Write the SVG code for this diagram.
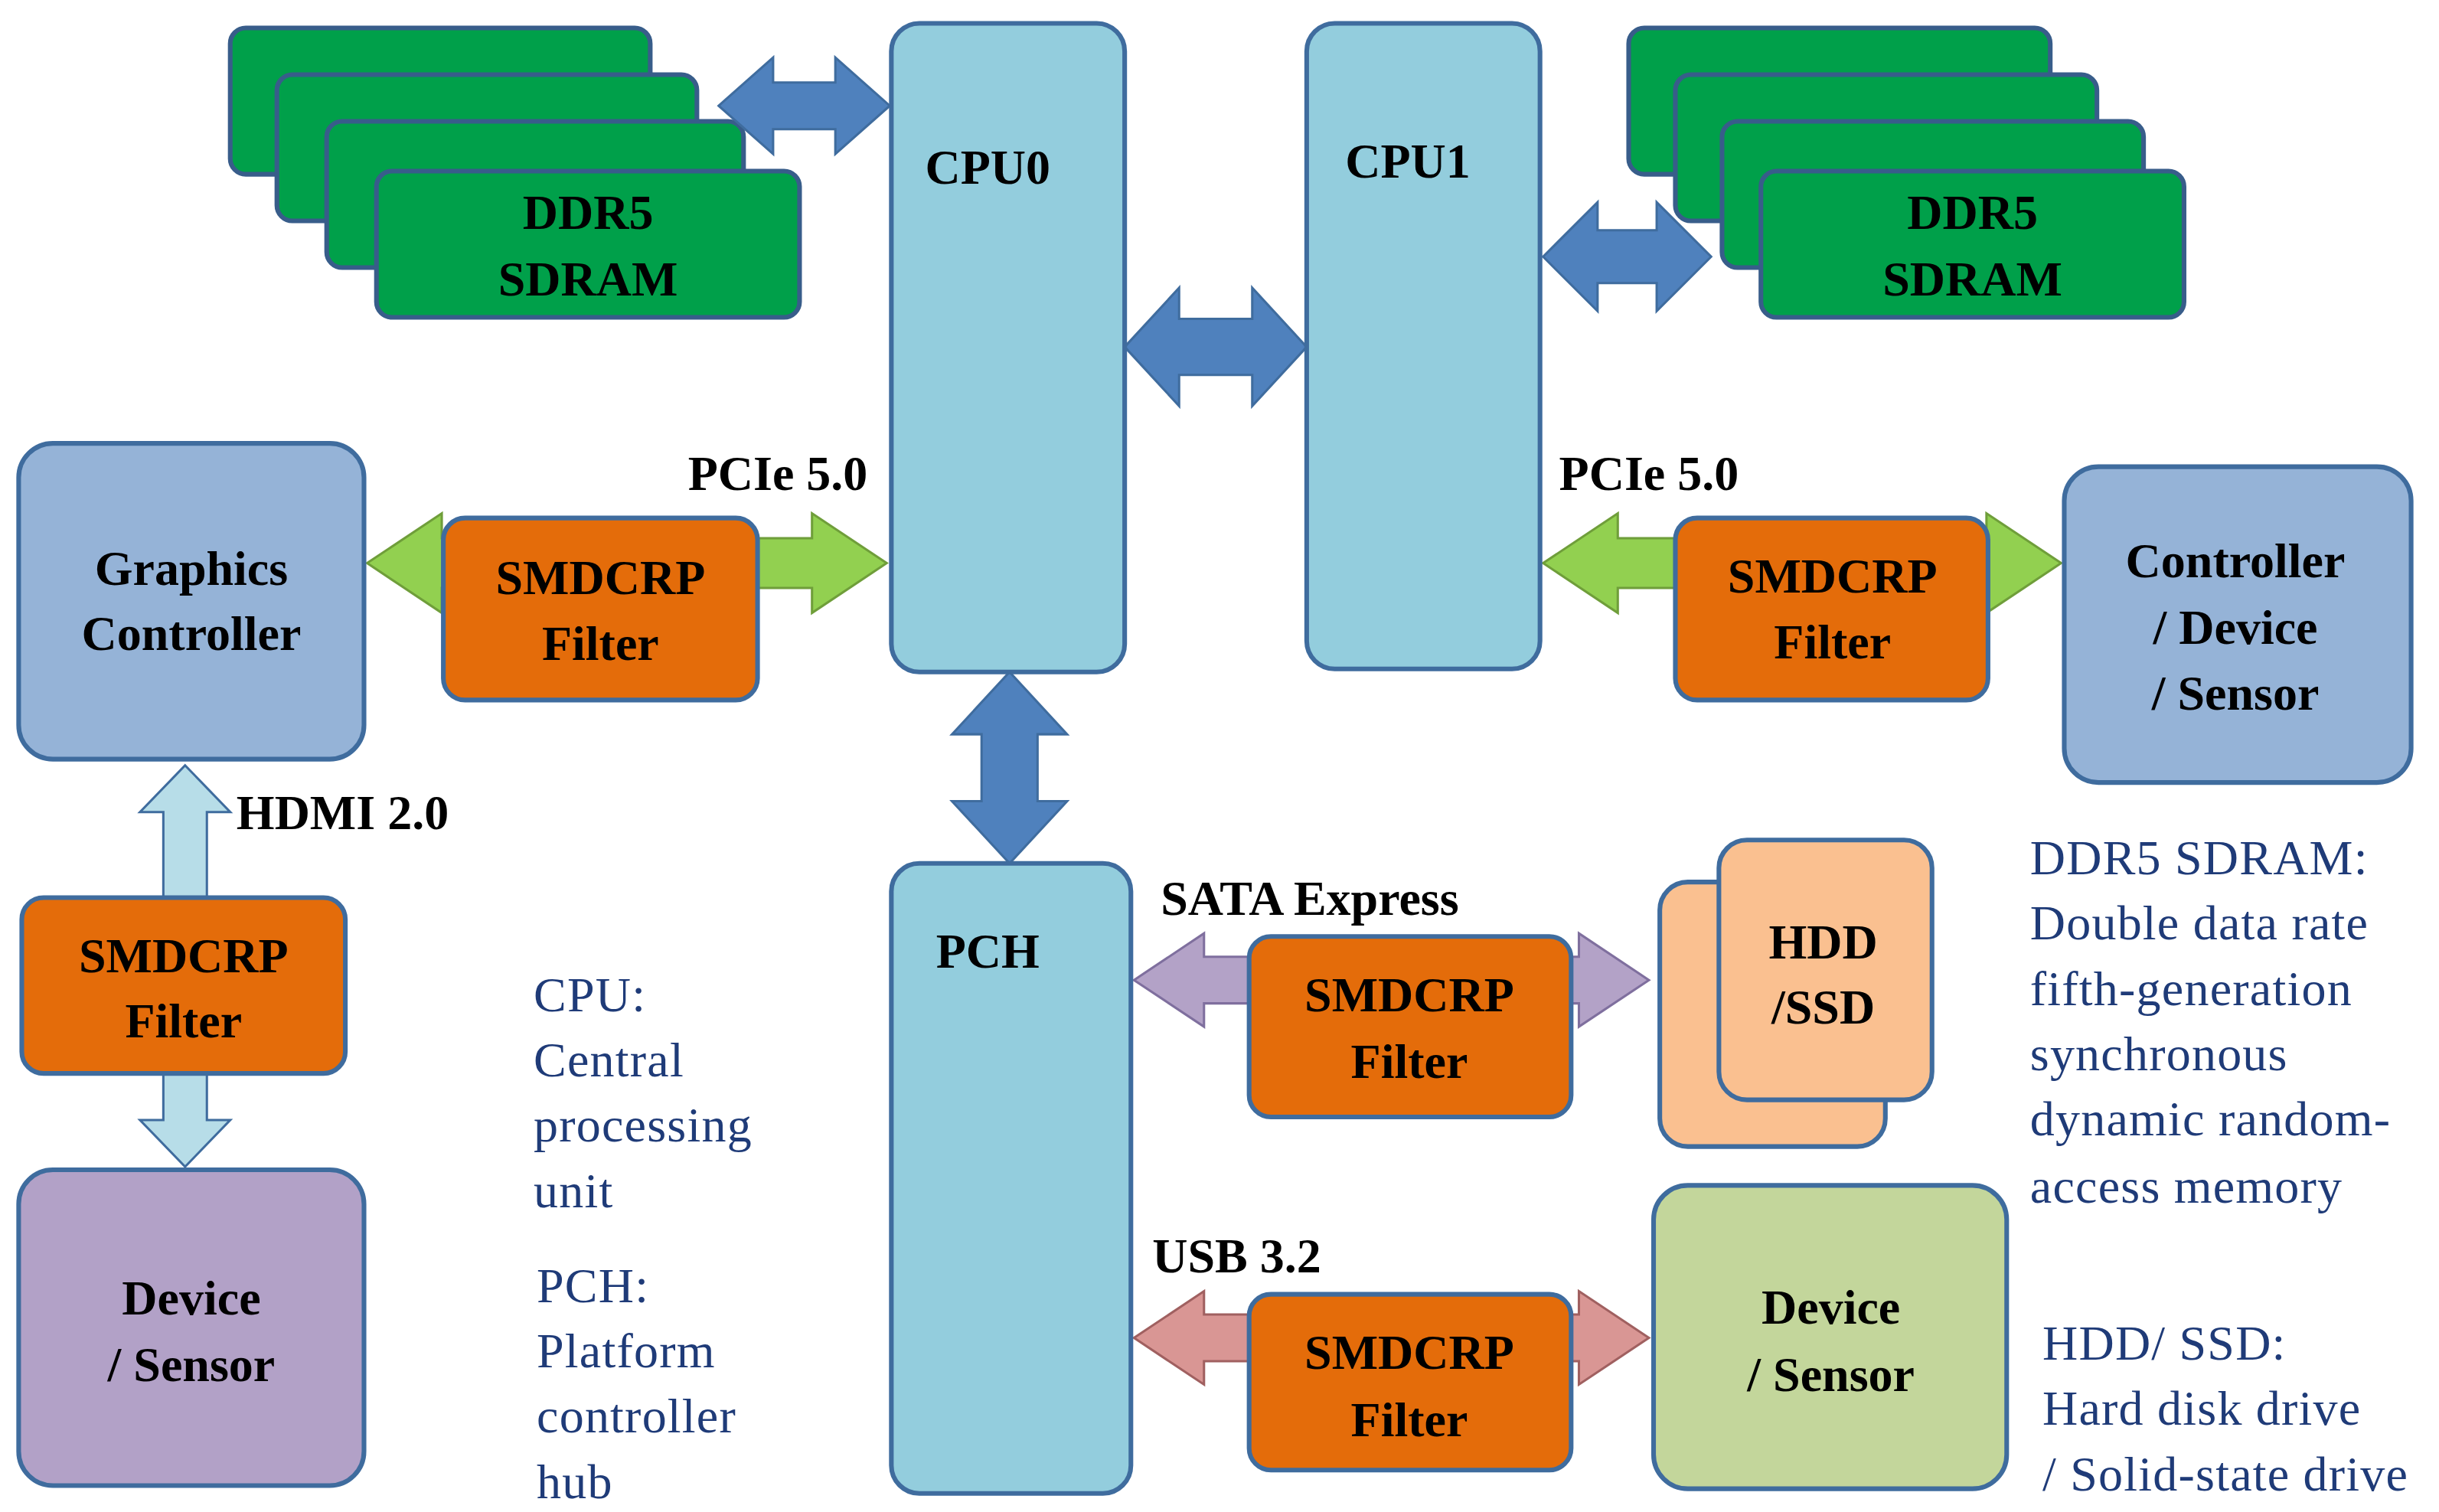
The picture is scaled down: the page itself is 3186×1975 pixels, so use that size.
<svg xmlns="http://www.w3.org/2000/svg" width="3186" height="1975" viewBox="0 0 3186 1975">
<style>
.b{font-family:"Liberation Serif",serif;font-weight:bold;font-size:31.5px;text-anchor:middle;fill:#000}
.l{font-family:"Liberation Serif",serif;font-size:31.5px;fill:#1f3b78;letter-spacing:0.6px}
.ddr{fill:#00a04a;stroke:#385d8a;stroke-width:3}
.cpu{fill:#93cddd;stroke:#3f6c9e;stroke-width:3}
.flt{fill:#e46c0a;stroke:#3f6c9e;stroke-width:3}
.ar{stroke:#3f6c9e;stroke-width:1.5}
</style>
<rect width="3186" height="1975" fill="#fff"/>
<g transform="scale(2.032)">
<g id="ddr-left">
<rect class="ddr" x="148" y="18" width="270" height="94" rx="10"/>
<rect class="ddr" x="178" y="48" width="270" height="94" rx="10"/>
<rect class="ddr" x="210" y="78" width="268" height="94" rx="10"/>
<rect class="ddr" x="242" y="110" width="272" height="94" rx="10"/>
<text class="b" x="378" y="147">DDR5</text><text class="b" x="378" y="190">SDRAM</text>
</g>
<g id="ddr-right">
<rect class="ddr" x="1047" y="18" width="271" height="94" rx="10"/>
<rect class="ddr" x="1077" y="48" width="271" height="94" rx="10"/>
<rect class="ddr" x="1107" y="78" width="271" height="94" rx="10"/>
<rect class="ddr" x="1132" y="110" width="272" height="94" rx="10"/>
<text class="b" x="1268" y="147">DDR5</text><text class="b" x="1268" y="190">SDRAM</text>
</g>
<g id="connectors">
<path class="ar" fill="#4f81bd" d="M462,68 L497,37 L497,53 L537,53 L537,37 L572,68 L537,99 L537,83 L497,83 L497,99 Z"/>
<path class="ar" fill="#4f81bd" d="M992,165 L1027,130 L1027,148 L1065,148 L1065,130 L1100,165 L1065,200 L1065,182 L1027,182 L1027,200 Z"/>
<path class="ar" fill="#4f81bd" d="M723,223 L758,185 L758,205 L805,205 L805,185 L840,223 L805,261 L805,241 L758,241 L758,261 Z"/>
<path class="ar" fill="#4f81bd" d="M649,432 L686,472 L667,472 L667,515 L686,515 L649,555 L612,515 L631,515 L631,472 L612,472 Z"/>
<path fill="#92d050" stroke="#6f9e3a" stroke-width="1.5" d="M236,362 L284,330 L284,346 L522,346 L522,330 L570,362 L522,394 L522,378 L284,378 L284,394 Z"/>
<path fill="#92d050" stroke="#6f9e3a" stroke-width="1.5" d="M992,362 L1040,330 L1040,346 L1277,346 L1277,330 L1325,362 L1277,394 L1277,378 L1040,378 L1040,394 Z"/>
<path fill="#b3a2c7" stroke="#7f6f9e" stroke-width="1.5" d="M729,630 L774,600 L774,615 L1015,615 L1015,600 L1060,630 L1015,660 L1015,645 L774,645 L774,660 Z"/>
<path fill="#d99694" stroke="#a06060" stroke-width="1.5" d="M729,860 L774,830 L774,845 L1015,845 L1015,830 L1060,860 L1015,890 L1015,875 L774,875 L774,890 Z"/>
<path fill="#b7dde8" stroke="#3f6c9e" stroke-width="1.5" d="M119,492 L148,522 L133,522 L133,720 L148,720 L119,750 L90,720 L105,720 L105,522 L90,522 Z"/>
</g>
<g id="cpu0"><rect class="cpu" x="573" y="15" width="150" height="417" rx="18"/><text class="b" x="635" y="118">CPU0</text></g>
<g id="cpu1"><rect class="cpu" x="840" y="15" width="150" height="415" rx="18"/><text class="b" x="905" y="114">CPU1</text></g>
<g id="pch"><rect class="cpu" x="573" y="555" width="154" height="405" rx="18"/><text class="b" x="635" y="622">PCH</text></g>
<g id="graphics"><rect x="12" y="285" width="222" height="203" rx="22" fill="#95b3d7" stroke="#3f6c9e" stroke-width="3"/><text class="b" x="123" y="376">Graphics</text><text class="b" x="123" y="418">Controller</text></g>
<g id="ctrl-dev"><rect x="1327" y="300" width="223" height="203" rx="22" fill="#95b3d7" stroke="#3f6c9e" stroke-width="3"/><text class="b" x="1437" y="371">Controller</text><text class="b" x="1437" y="414">/ Device</text><text class="b" x="1437" y="456">/ Sensor</text></g>
<g id="dev-left"><rect x="12" y="752" width="222" height="203" rx="22" fill="#b2a1c7" stroke="#3f6c9e" stroke-width="3"/><text class="b" x="123" y="845">Device</text><text class="b" x="123" y="888">/ Sensor</text></g>
<g id="dev-right"><rect x="1063" y="762" width="227" height="195" rx="22" fill="#c3d69b" stroke="#3f6c9e" stroke-width="3"/><text class="b" x="1177" y="851">Device</text><text class="b" x="1177" y="894">/ Sensor</text></g>
<g id="hdd"><rect x="1067" y="567" width="145" height="170" rx="18" fill="#fac090" stroke="#3f6c9e" stroke-width="3"/><rect x="1105" y="540" width="137" height="167" rx="18" fill="#fac090" stroke="#3f6c9e" stroke-width="3"/><text class="b" x="1172" y="616">HDD</text><text class="b" x="1172" y="658">/SSD</text></g>
<g id="f1"><rect class="flt" x="285" y="333" width="202" height="117" rx="14"/><text class="b" x="386" y="382">SMDCRP</text><text class="b" x="386" y="424">Filter</text></g>
<g id="f2"><rect class="flt" x="1077" y="333" width="201" height="117" rx="14"/><text class="b" x="1178" y="381">SMDCRP</text><text class="b" x="1178" y="423">Filter</text></g>
<g id="f3"><rect class="flt" x="14" y="577" width="208" height="113" rx="14"/><text class="b" x="118" y="625">SMDCRP</text><text class="b" x="118" y="667">Filter</text></g>
<g id="f4"><rect class="flt" x="803" y="602" width="207" height="116" rx="14"/><text class="b" x="906" y="650">SMDCRP</text><text class="b" x="906" y="693">Filter</text></g>
<g id="f5"><rect class="flt" x="803" y="832" width="207" height="113" rx="14"/><text class="b" x="906" y="880">SMDCRP</text><text class="b" x="906" y="923">Filter</text></g>
<g id="labels">
<text class="b" x="500" y="315">PCIe 5.0</text>
<text class="b" x="1060" y="315">PCIe 5.0</text>
<text class="b" x="152" y="533" style="text-anchor:start">HDMI 2.0</text>
<text class="b" x="842" y="588">SATA Express</text>
<text class="b" x="795" y="818">USB 3.2</text>
<text class="l" x="343" y="650">CPU:</text><text class="l" x="343" y="692">Central</text><text class="l" x="343" y="734">processing</text><text class="l" x="343" y="776">unit</text>
<text class="l" x="345" y="837">PCH:</text><text class="l" x="345" y="879">Platform</text><text class="l" x="345" y="921">controller</text><text class="l" x="345" y="963">hub</text>
<text class="l" x="1305" y="562">DDR5 SDRAM:</text><text class="l" x="1305" y="604">Double data rate</text><text class="l" x="1305" y="646">fifth-generation</text><text class="l" x="1305" y="688">synchronous</text><text class="l" x="1305" y="730">dynamic random-</text><text class="l" x="1305" y="773">access memory</text>
<text class="l" x="1313" y="874">HDD/ SSD:</text><text class="l" x="1313" y="916">Hard disk drive</text><text class="l" x="1313" y="958">/ Solid-state drive</text>
</g>
</g>
</svg>
